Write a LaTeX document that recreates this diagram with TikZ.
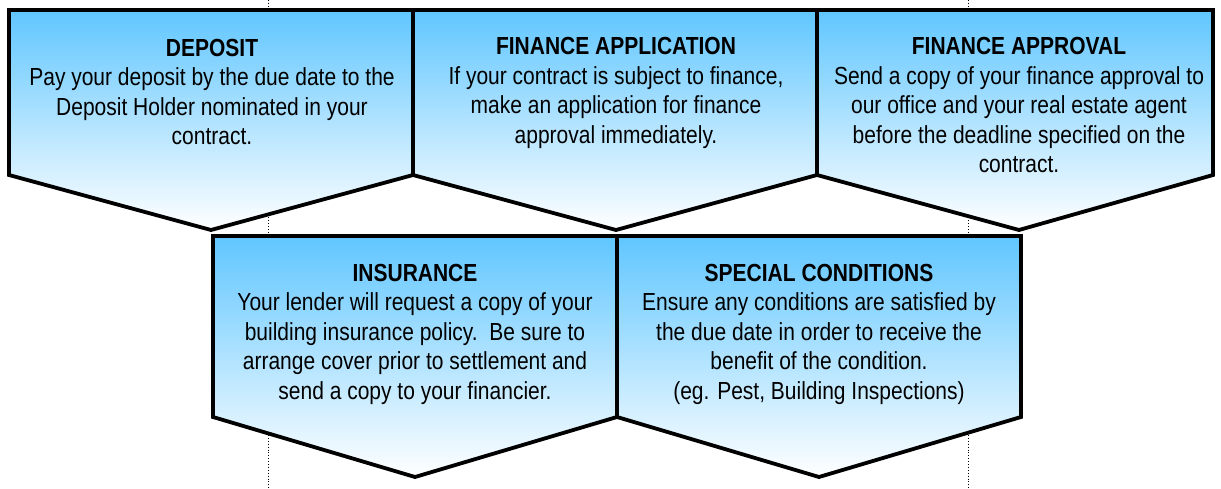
\documentclass[tikz,border=0pt]{standalone}
\usepackage{fontspec}
\setmainfont[FakeStretch=0.85]{Liberation Sans}
\begin{document}
\begin{tikzpicture}[x=1pt,y=-1pt,
  chev/.style={draw=black,line width=3.8pt,top color=topblue,bottom color=white,line join=miter},
  txt/.style={align=center,anchor=base,inner sep=0pt,font=\fontsize{24.7}{29.5}\selectfont},
  guide/.style={black,line width=0.9pt,dotted}]
\definecolor{topblue}{RGB}{96,198,255}
\useasboundingbox (0,0) rectangle (1221,489);
% dotted guides
\coordinate (g1t) at (268,0); \coordinate (g1b) at (268,489);
\coordinate (g2t) at (968,0); \coordinate (g2b) at (968,489);
\draw[guide] (g1t) -- (g1b);
\draw[guide] (g2t) -- (g2b);
% boxes
\path[chev] (9,10) -- (413,10) -- (413,175) -- (211,230) -- (9,175) -- cycle;
\path[chev] (413,10) -- (817,10) -- (817,175) -- (616,230) -- (413,175) -- cycle;
\path[chev] (817,10) -- (1213,10) -- (1213,175) -- (1019,230) -- (817,175) -- cycle;
\path[chev] (213,236) -- (617,236) -- (617,417) -- (415,477) -- (213,417) -- cycle;
\path[chev] (617,236) -- (1021,236) -- (1021,417) -- (819,477) -- (617,417) -- cycle;
% texts (anchored at the baseline of their last line)
\node[txt] (t1) at (212,145) {\textbf{DEPOSIT}\\Pay your deposit by the due date to the\\Deposit Holder nominated in your\\contract.};
\node[txt] (t2) at (616,143.5) {\textbf{FINANCE APPLICATION}\\If your contract is subject to finance,\\make an application for finance\\approval immediately.};
\node[txt] (t3) at (1019,173) {\textbf{FINANCE APPROVAL}\\Send a copy of your finance approval to\\our office and your real estate agent\\before the deadline specified on the\\contract.};
\node[txt] (t4) at (415,399) {\textbf{INSURANCE}\\Your lender will request a copy of your\\building insurance policy.\ \ Be sure to\\arrange cover prior to settlement and\\send a copy to your financier.};
\node[txt] (t5) at (819,399) {\textbf{SPECIAL CONDITIONS}\\Ensure any conditions are satisfied by\\the due date in order to receive the\\benefit of the condition.\\(eg. Pest, Building Inspections)};
\end{tikzpicture}
\end{document}
